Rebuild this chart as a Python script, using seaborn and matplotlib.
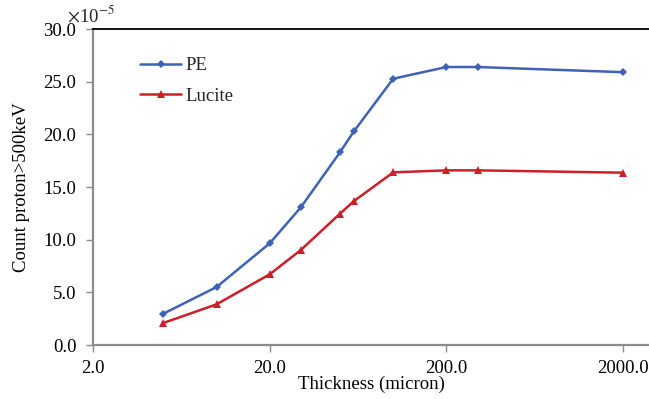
import matplotlib
matplotlib.use("Agg")
import matplotlib.pyplot as plt
import matplotlib.ticker as mticker
import seaborn as sns
import pandas as pd

thickness = [5, 10, 20, 30, 50, 60, 100, 200, 300, 2000]
pe_counts = [2.97, 5.5, 9.65, 13.07, 18.3, 20.3, 25.28, 26.39, 26.39, 25.9]
lucite_counts = [2.09, 3.86, 6.71, 9.02, 12.47, 13.67, 16.39, 16.58, 16.58, 16.36]
y_ticks = [0, 5, 10, 15, 20, 25, 30]
x_ticks = [2, 20, 200, 2000]

sns.set_theme(style="white")
plt.rcParams['font.family'] = ['Liberation Serif', 'DejaVu Serif']
plt.rcParams['mathtext.fontset'] = 'stix'

FS = 13.5

df = pd.DataFrame({
    "Thickness": thickness * 2,
    "Count": pe_counts + lucite_counts,
    "Material": ["PE"] * len(thickness) + ["Lucite"] * len(thickness),
})

fig = plt.figure(figsize=(6.49, 3.99), dpi=100)
ax = fig.add_axes([93/649, 1 - 345/399, 1 - 93/649 + 0.002, (345 - 29)/399])

colors = {"PE": "#3E62B6", "Lucite": "#CC1F27"}
markers = {"PE": "D", "Lucite": "^"}
sizes = {"PE": 3.8, "Lucite": 5.5}
for name in ["PE", "Lucite"]:
    sub = df[df["Material"] == name]
    sns.lineplot(data=sub, x="Thickness", y="Count", ax=ax, color=colors[name],
                 marker=markers[name], markersize=sizes[name], markeredgewidth=0,
                 linewidth=1.8, label=name, sort=True)

ax.set_xscale("log")
ax.set_xlim(2, 2850)
ax.set_ylim(0, 30)
ax.set_xticks(x_ticks)
ax.xaxis.set_major_formatter(mticker.FuncFormatter(lambda v, p: f"{v:.1f}"))
ax.xaxis.set_minor_locator(mticker.NullLocator())
ax.set_yticks(y_ticks)
ax.yaxis.set_major_formatter(mticker.FuncFormatter(lambda v, p: f"{v:.1f}"))

for s in ["left", "bottom"]:
    ax.spines[s].set_color("#8C8C8C")
    ax.spines[s].set_linewidth(1.6)
ax.spines["top"].set_color("black")
ax.spines["top"].set_linewidth(1.3)
ax.spines["right"].set_visible(False)

ax.tick_params(axis="both", which="major", direction="out", length=5, width=1,
               color="#8C8C8C", labelsize=FS, labelcolor="black")
ax.tick_params(axis="x", pad=6, bottom=True)
ax.tick_params(axis="y", pad=7, left=True)

ax.set_xlabel("Thickness (micron)", fontsize=FS, labelpad=-1, color="black")
ax.set_ylabel("Count proton>500keV", fontsize=FS, labelpad=10, color="black")

fig.text(67/649, 1 - 15/399, r"$\times$10$^{-5}$", fontsize=FS, va="center", ha="left")

leg = ax.legend(loc="upper left", bbox_to_anchor=(140/649, 1 - 57/399),
                bbox_transform=fig.transFigure, frameon=False, borderpad=0,
                borderaxespad=0, fontsize=FS, handlelength=2.2, labelspacing=0.72,
                handletextpad=0.2)

fig.savefig("out.png", dpi=100)
